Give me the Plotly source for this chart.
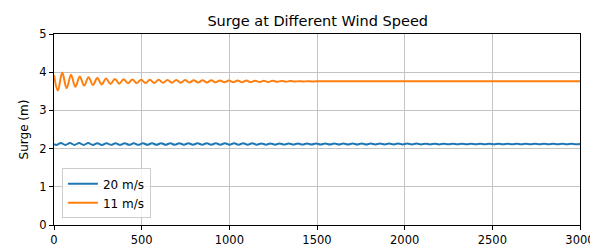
import plotly.graph_objects as go

# 11 m/s: times of turning points (s) and surge values (m)
t_11 = [0, 22, 47, 72, 97, 122, 147, 172, 197, 222, 247, 272, 297, 322, 347, 372, 397,
        422, 447, 472, 497, 522, 547, 572, 597, 622, 647, 672, 697, 722, 747, 772, 797,
        822, 847, 872, 897, 922, 947, 972, 997, 1022, 1047, 1072, 1097, 1122, 1147, 1172,
        1197, 1222, 1247, 1272, 1297, 1322, 1347, 1372, 1397, 1422, 1447, 1472, 1497, 3000]
s_11 = [3.92, 3.52, 3.99, 3.58, 3.93, 3.62, 3.89, 3.645, 3.87, 3.665, 3.85, 3.68, 3.835,
        3.69, 3.825, 3.70, 3.815, 3.71, 3.81, 3.715, 3.805, 3.717, 3.80, 3.72, 3.80, 3.722,
        3.797, 3.724, 3.795, 3.726, 3.793, 3.728, 3.791, 3.730, 3.789, 3.732, 3.787, 3.734,
        3.785, 3.736, 3.783, 3.738, 3.781, 3.740, 3.780, 3.741, 3.779, 3.743, 3.777, 3.745,
        3.775, 3.748, 3.772, 3.751, 3.769, 3.754, 3.766, 3.756, 3.764, 3.758, 3.762, 3.76]

# 20 m/s: times of turning points (s) and surge values (m)
t_20 = [0, 13, 39, 65, 91, 117, 143, 169, 195, 221, 247, 273, 299, 325, 351, 377, 403,
        429, 455, 481, 507, 533, 559, 585, 611, 637, 663, 689, 715, 741, 767, 793, 819,
        845, 871, 897, 923, 949, 975, 1001, 1027, 1053, 1079, 1105, 1131, 1157, 1183, 1209,
        1235, 1261, 1287, 1313, 1339, 1365, 1391, 1417, 1443, 1469, 1495, 1521, 1547, 1573,
        1599, 1625, 1651, 1677, 1703, 1729, 1755, 1781, 1807, 1833, 1859, 1885, 1911, 1937,
        1963, 1989, 2015, 2041, 2067, 2093, 2119, 2145, 2171, 2197, 2223, 2249, 2275, 2301,
        2327, 2353, 2379, 2405, 2431, 2457, 2483, 2509, 2535, 2561, 2587, 2613, 2639, 2665,
        2691, 2717, 2743, 2769, 2795, 2821, 2847, 2873, 2899, 2925, 2951, 2977, 3000]
s_20 = [2.12, 2.095, 2.145, 2.095, 2.145, 2.096, 2.144, 2.096, 2.144, 2.097, 2.143, 2.097,
        2.143, 2.098, 2.142, 2.098, 2.142, 2.099, 2.141, 2.099, 2.141, 2.100, 2.140, 2.100,
        2.140, 2.100, 2.140, 2.101, 2.139, 2.101, 2.139, 2.101, 2.139, 2.102, 2.138, 2.102,
        2.138, 2.102, 2.138, 2.103, 2.137, 2.103, 2.137, 2.103, 2.137, 2.104, 2.136, 2.104,
        2.136, 2.104, 2.136, 2.105, 2.135, 2.105, 2.135, 2.105, 2.135, 2.106, 2.134, 2.106,
        2.134, 2.106, 2.134, 2.107, 2.133, 2.107, 2.133, 2.107, 2.133, 2.108, 2.132, 2.108,
        2.132, 2.108, 2.132, 2.109, 2.131, 2.109, 2.131, 2.109, 2.131, 2.110, 2.130, 2.110,
        2.130, 2.110, 2.130, 2.111, 2.129, 2.111, 2.129, 2.111, 2.129, 2.112, 2.128, 2.112,
        2.128, 2.112, 2.128, 2.113, 2.127, 2.113, 2.127, 2.113, 2.127, 2.114, 2.126, 2.114,
        2.126, 2.114, 2.126, 2.115, 2.125, 2.115, 2.125, 2.115, 2.12]

x_ticks = [0, 500, 1000, 1500, 2000, 2500, 3000]
y_ticks = [0, 1, 2, 3, 4, 5]

FONT = "DejaVu Sans"

fig = go.Figure()
fig.add_trace(go.Scatter(x=t_20, y=s_20, mode="lines", name="20 m/s",
                         line=dict(color="#1f77b4", width=2, shape="spline", smoothing=1)))
fig.add_trace(go.Scatter(x=t_11, y=s_11, mode="lines", name="11 m/s",
                         line=dict(color="#ff7f0e", width=2, shape="spline", smoothing=1)))

axis_common = dict(showline=True, linecolor="black", linewidth=1, mirror=True,
                   ticks="outside", ticklen=4, tickcolor="black", automargin=False,
                   showgrid=True, gridcolor="#c4c4c4", gridwidth=1, zeroline=False,
                   tickfont=dict(family=FONT, size=11.5, color="black"))

# page body adds an 8px offset, so the figure is sized to fit the window
fig.update_layout(
    width=590, height=244,
    margin=dict(l=46, r=18, t=26, b=27, autoexpand=False),
    paper_bgcolor="white", plot_bgcolor="white",
    font=dict(family=FONT, size=12, color="black"),
    title=dict(text="Surge at Different Wind Speed", x=0.525, xanchor="center",
               xref="container", yref="container",
               y=0.945, yanchor="middle", font=dict(family=FONT, size=14.5, color="black")),
    xaxis=dict(range=[0, 3000], tickvals=x_ticks, **axis_common),
    yaxis=dict(range=[0, 5], tickvals=y_ticks,
               title=dict(text="Surge (m)", font=dict(family=FONT, size=12), standoff=8),
               **axis_common),
    legend=dict(x=0.015, y=0.035, xanchor="left", yanchor="bottom",
                bgcolor="rgba(255,255,255,0.8)", bordercolor="#cccccc", borderwidth=1,
                font=dict(family=FONT, size=12), tracegroupgap=0, itemwidth=30),
    showlegend=True,
)

fig.write_html("out.html")
